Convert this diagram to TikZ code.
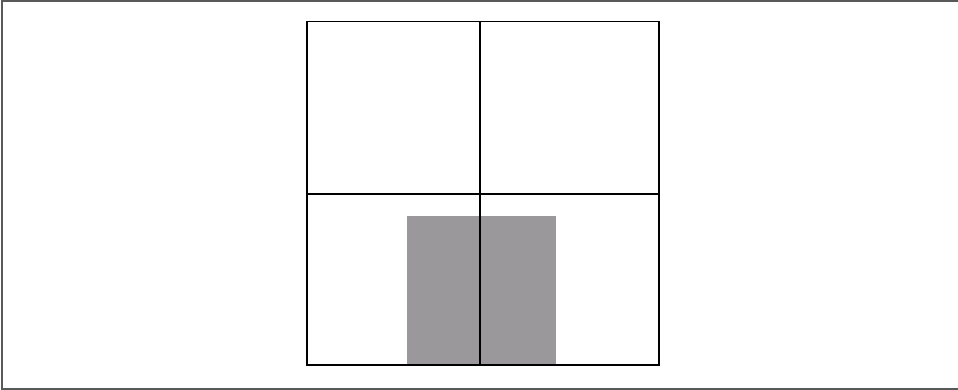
\documentclass[tikz,border=0pt]{standalone}
\begin{document}
\begin{tikzpicture}[x=1pt,y=-1pt,
  frameline/.style={draw=black!65,line width=1.3pt},
  gridline/.style={draw=black,line width=1.2pt}]
\useasboundingbox (0,0) rectangle (958,390);
\fill[white] (0,0) rectangle (958,390);
\draw[frameline] (958,1) -- (2,1) -- (2,389) -- (958,389);
\fill[fill={rgb,255:red,154;green,152;blue,154}] (407,216) rectangle (556,365);
\coordinate (tl) at (307,21.5);
\coordinate (br) at (659,365);
\coordinate (vt) at (480,21.5);
\coordinate (vb) at (480,365);
\coordinate (hl) at (307,194);
\coordinate (hr) at (659,194);
\draw[gridline] (tl) rectangle (br);
\draw[gridline] (vt) -- (vb);
\draw[gridline] (hl) -- (hr);
\end{tikzpicture}
\end{document}
